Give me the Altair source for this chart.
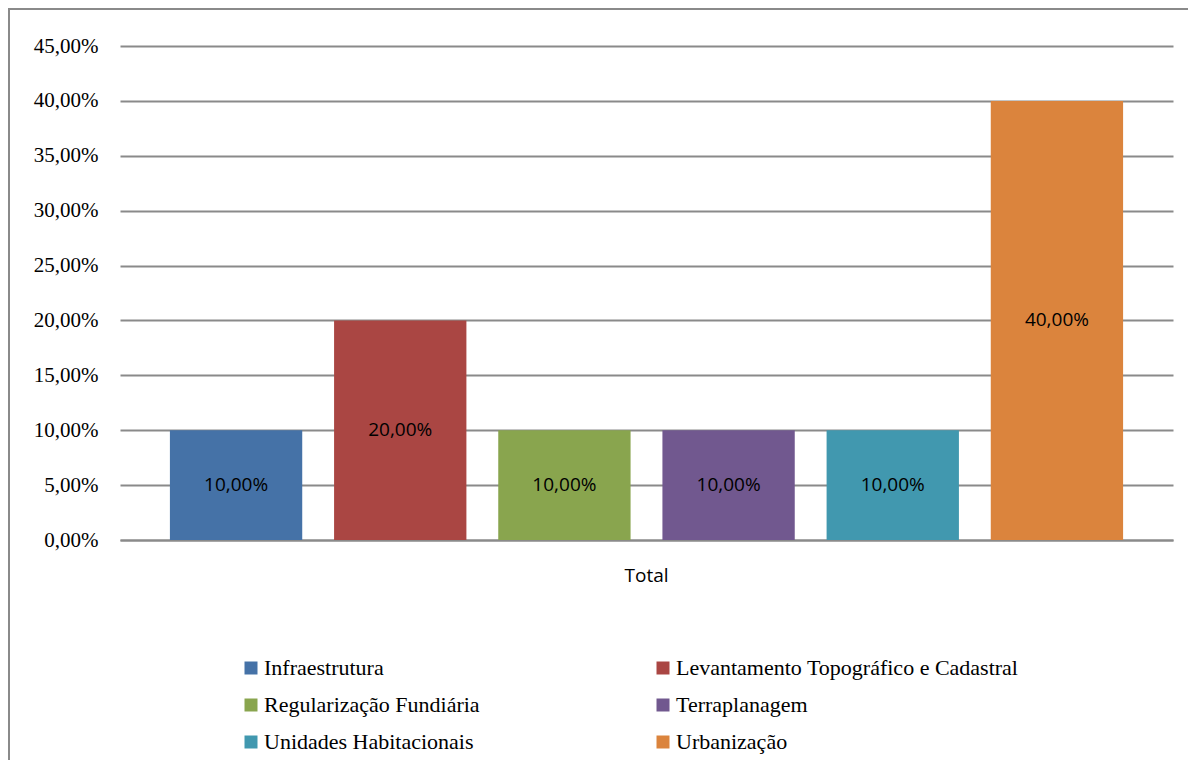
import altair as alt
import pandas as pd

# Share of each work type in the total
categorias = [
    "Infraestrutura",
    "Levantamento Topográfico e Cadastral",
    "Regularização Fundiária",
    "Terraplanagem",
    "Unidades Habitacionais",
    "Urbanização",
]
percentuais = [10.0, 20.0, 10.0, 10.0, 10.0, 40.0]
cores = ["#4572A7", "#AA4643", "#89A54E", "#71588F", "#4198AF", "#DB843D"]
grupo = "Total"
marcas_y = [0, 5, 10, 15, 20, 25, 30, 35, 40, 45]

df = pd.DataFrame({
    "grupo": [grupo] * len(categorias),
    "categoria": categorias,
    "valor": percentuais,
})

serif = "Liberation Serif"
sans = "Open Sans"
cinza = "#8a8a8a"

x_enc = alt.X(
    "grupo:N",
    scale=alt.Scale(paddingInner=0, paddingOuter=0.0345),
    axis=alt.Axis(
        title=None, ticks=False, labelAngle=0, labelPadding=26,
        domainColor=cinza, domainWidth=2,
    ),
)
offset_enc = alt.XOffset(
    "categoria:N", sort=categorias,
    scale=alt.Scale(paddingInner=0.194, paddingOuter=0.097),
)
y_scale = alt.Scale(domain=[0, 45], nice=False)
y_axis = alt.Axis(
    title=None, values=marcas_y, domain=False, ticks=False,
    labelPadding=22, labelFont=serif, labelFontSize=21,
    labelExpr="replace(format(datum.value, '.2f'), '.', ',') + '%'",
    grid=True, gridColor=cinza, gridWidth=2,
)

barras = alt.Chart(df).mark_bar().encode(
    x=x_enc,
    xOffset=offset_enc,
    y=alt.Y("valor:Q", scale=y_scale, axis=y_axis),
    color=alt.Color(
        "categoria:N", sort=categorias,
        scale=alt.Scale(domain=categorias, range=cores),
        legend=alt.Legend(
            title=None, orient="none", legendX=120, legendY=611,
            columns=2, columnPadding=172, rowPadding=15, padding=0,
            symbolType="square", symbolSize=169, symbolStrokeWidth=0,
            labelFont=serif, labelFontSize=22, labelColor="#000000",
            labelOffset=2, labelLimit=600, direction="horizontal",
        ),
    ),
)

rotulos = alt.Chart(df).transform_calculate(
    meio="datum.valor / 2",
    rotulo="replace(format(datum.valor, '.2f'), '.', ',') + '%'",
).mark_text(font=sans, fontSize=19, color="#000000", baseline="middle").encode(
    x=alt.X("grupo:N"),
    xOffset=alt.XOffset("categoria:N", sort=categorias),
    y=alt.Y("meio:Q", scale=y_scale, axis=y_axis),
    text="rotulo:N",
)

moldura = alt.Chart(alt.Data(values=[{}])).mark_rect(
    fill=None, stroke=cinza, strokeWidth=2
).encode(
    x=alt.value(-111), x2=alt.value(1200),
    y=alt.value(-37), y2=alt.value(800),
)

chart = alt.layer(barras, rotulos, moldura).properties(
    width=1053,
    height=494,
    padding={"left": 120, "top": 46, "right": 15, "bottom": 220},
    autosize=alt.AutoSizeParams(type="none"),
    background="#ffffff",
).configure_view(stroke=None).configure_axisY(
    labelFont=serif, labelFontSize=21, labelColor="#000000"
).configure_axisX(
    labelFont=sans, labelFontSize=19, labelColor="#000000"
)

chart.save("out.html", embed_options={"renderer": "svg", "actions": False})
